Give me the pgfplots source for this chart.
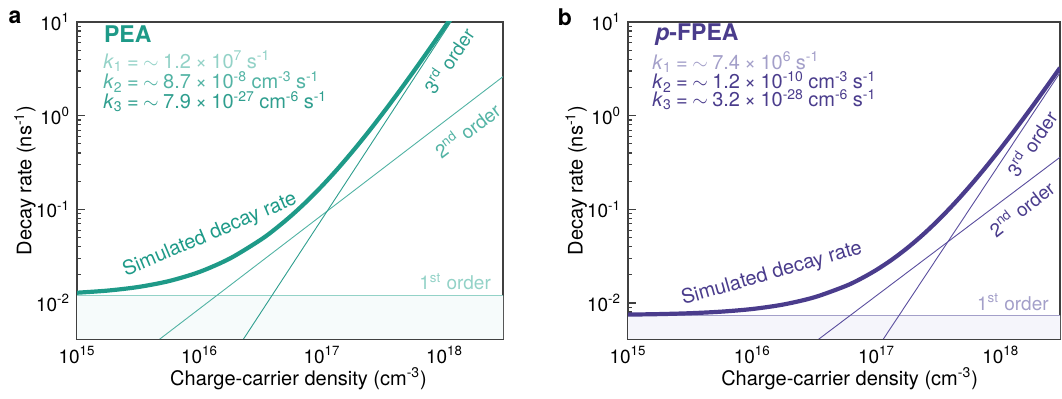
\documentclass[border=0pt]{standalone}
\usepackage{fontspec}
\setmainfont{TeX Gyre Heros}
\usepackage{pgfplots}
\pgfplotsset{compat=1.18}

\definecolor{tmain}{HTML}{1E9A88}
\definecolor{tthree}{HTML}{2E9E8E}
\definecolor{ttwo}{HTML}{52B3A4}
\definecolor{tone}{HTML}{93D2C7}
\definecolor{tfill}{HTML}{F6FBFB}
\definecolor{pmain}{HTML}{4A3C8C}
\definecolor{pline}{HTML}{5A4E9E}
\definecolor{pone}{HTML}{A39FC9}
\definecolor{pfill}{HTML}{F5F5FB}
\newcommand{\gp}{\hspace{0.22em}}

\begin{document}
\begin{tikzpicture}
\useasboundingbox (0,0) rectangle (531pt,199.5pt);
\node[font=\fontsize{11.5}{12}\selectfont\bfseries] at (7.5pt,191pt) {a};
\node[font=\fontsize{11.5}{12}\selectfont\bfseries] at (282.5pt,191pt) {b};

% ---------------- panel a ----------------
\begin{axis}[
  xmode=log, ymode=log, scale only axis, height=158.5pt, width=213pt,
  at={(38.5pt,30pt)}, anchor=south west,
  xmin=1e15, xmax=3e18, ymin=4.13e-3, ymax=10,
  xtick={1e15,1e16,1e17,1e18},
  xticklabels={10\textsuperscript{15},10\textsuperscript{16},10\textsuperscript{17},10\textsuperscript{18}},
  minor xtick={2e15,3e15,4e15,5e15,6e15,7e15,8e15,9e15,2e16,3e16,4e16,5e16,6e16,7e16,8e16,9e16,2e17,3e17,4e17,5e17,6e17,7e17,8e17,9e17,2e18,3e18},
  ytick={1e-2,1e-1,1,10},
  yticklabels={10\textsuperscript{-2},10\textsuperscript{-1},10\textsuperscript{0},10\textsuperscript{1}},
  minor ytick={5e-3,6e-3,7e-3,8e-3,9e-3,2e-2,3e-2,4e-2,5e-2,6e-2,7e-2,8e-2,9e-2,0.2,0.3,0.4,0.5,0.6,0.7,0.8,0.9,2,3,4,5,6,7,8,9},
  tick align=inside, xtick pos=bottom, ytick pos=left,
  major tick length=4pt, minor tick length=2pt,
  axis line style={black!75, line width=0.7pt},
  every tick/.style={black!75, line width=0.6pt},
  tick label style={font=\fontsize{9.5}{10}\selectfont},
  xlabel={Charge-carrier density (cm\textsuperscript{-3})},
  ylabel={Decay rate (ns\textsuperscript{-1})},
  xlabel style={font=\fontsize{10}{12}\selectfont, at={(axis description cs:0.52,0)}, anchor=north, yshift=-11pt},
  ylabel style={font=\fontsize{10}{12}\selectfont, at={(axis description cs:-0.122,0.5)}, anchor=center},
]
\addplot[draw=none, fill=tfill] coordinates {(1e15,1e-3) (1e15,0.012) (3e18,0.012) (3e18,1e-3) (1e15,1e-3)};
\addplot[tone, line width=0.6pt] coordinates {(1e15,0.012) (3e18,0.012)};
\addplot[ttwo, line width=0.45pt] coordinates {(1e15,8.7e-4) (3e18,2.61)};
\addplot[tthree, line width=0.45pt] coordinates {(1e15,7.9e-6) (2e18,31.6)};
\addplot[tmain, line width=2.1pt, smooth] coordinates {
(1e15,0.012878) (1.778e15,0.013572) (3.162e15,0.01483) (5.623e15,0.017142)
(1e16,0.02149) (1.778e16,0.029968) (3.162e16,0.047411) (4.217e16,0.062736)
(5.623e16,0.085902) (7.499e16,0.121666) (1e17,0.178) (1.3335e17,0.2685)
(1.778e17,0.4165) (2.3714e17,0.66256) (3.162e17,1.07711) (4.217e17,1.7837)
(5.623e17,2.9993) (7.499e17,5.1069) (1e18,8.782) (1.122e18,10.93) (1.2589e18,13.63)};
\node[anchor=west, text=tmain, font=\fontsize{11.5}{12}\selectfont\bfseries] at (rel axis cs:0.047,0.962) {PEA};
\node[anchor=west, text=tone, font=\fontsize{10}{10}\selectfont] at (rel axis cs:0.045,0.877) {\textit{k}\textsubscript{1}\gp=\gp$\sim$\gp1.2\gp×\gp10\textsuperscript{7}\gp s\textsuperscript{-1}};
\node[anchor=west, text=ttwo, font=\fontsize{10}{10}\selectfont] at (rel axis cs:0.045,0.811) {\textit{k}\textsubscript{2}\gp=\gp$\sim$\gp8.7\gp×\gp10\textsuperscript{-8}\gp cm\textsuperscript{-3}\gp s\textsuperscript{-1}};
\node[anchor=west, text=tthree, font=\fontsize{10}{10}\selectfont] at (rel axis cs:0.045,0.748) {\textit{k}\textsubscript{3}\gp=\gp$\sim$\gp7.9\gp×\gp10\textsuperscript{-27}\gp cm\textsuperscript{-6}\gp s\textsuperscript{-1}};
\node[text=tmain, rotate=23, font=\fontsize{10}{12}\selectfont] at (rel axis cs:0.312,0.328) {Simulated decay rate};
\node[anchor=base east, text=tone, font=\fontsize{9.5}{12}\selectfont] at (rel axis cs:0.988,0.155) {1\textsuperscript{st} order};
\node[text=ttwo, rotate=37, font=\fontsize{9.5}{12}\selectfont] at (rel axis cs:0.915,0.659) {2\textsuperscript{nd} order};
\node[text=tthree, rotate=56, font=\fontsize{9.5}{12}\selectfont] at (rel axis cs:0.871,0.880) {3\textsuperscript{rd} order};
\end{axis}

% ---------------- panel b ----------------
\begin{axis}[
  xmode=log, ymode=log, scale only axis, height=158.5pt, width=216pt,
  at={(314pt,30pt)}, anchor=south west,
  xmin=1e15, xmax=3e18, ymin=4.13e-3, ymax=10,
  xtick={1e15,1e16,1e17,1e18},
  xticklabels={10\textsuperscript{15},10\textsuperscript{16},10\textsuperscript{17},10\textsuperscript{18}},
  minor xtick={2e15,3e15,4e15,5e15,6e15,7e15,8e15,9e15,2e16,3e16,4e16,5e16,6e16,7e16,8e16,9e16,2e17,3e17,4e17,5e17,6e17,7e17,8e17,9e17,2e18,3e18},
  ytick={1e-2,1e-1,1,10},
  yticklabels={10\textsuperscript{-2},10\textsuperscript{-1},10\textsuperscript{0},10\textsuperscript{1}},
  minor ytick={5e-3,6e-3,7e-3,8e-3,9e-3,2e-2,3e-2,4e-2,5e-2,6e-2,7e-2,8e-2,9e-2,0.2,0.3,0.4,0.5,0.6,0.7,0.8,0.9,2,3,4,5,6,7,8,9},
  tick align=inside, xtick pos=bottom, ytick pos=left,
  major tick length=4pt, minor tick length=2pt,
  axis line style={black!75, line width=0.7pt},
  every tick/.style={black!75, line width=0.6pt},
  tick label style={font=\fontsize{9.5}{10}\selectfont},
  xlabel={Charge-carrier density (cm\textsuperscript{-3})},
  ylabel={Decay rate (ns\textsuperscript{-1})},
  xlabel style={font=\fontsize{10}{12}\selectfont, at={(axis description cs:0.513,0)}, anchor=north, yshift=-11pt},
  ylabel style={font=\fontsize{10}{12}\selectfont, at={(axis description cs:-0.12,0.5)}, anchor=center},
]
\addplot[draw=none, fill=pfill] coordinates {(1e15,1e-3) (1e15,0.0074) (3e18,0.0074) (3e18,1e-3) (1e15,1e-3)};
\addplot[pone, line width=0.6pt] coordinates {(1e15,0.0074) (3e18,0.0074)};
\addplot[pline, line width=0.45pt] coordinates {(1e15,1.2e-4) (3e18,0.36)};
\addplot[pline, line width=0.45pt] coordinates {(1e15,3.2e-7) (3e18,2.88)};
\addplot[pmain, line width=2.1pt, smooth] coordinates {
(1e15,0.0075203) (1.778e15,0.0076144) (3.162e15,0.0077827) (5.623e15,0.0080849)
(1e16,0.008632) (1.778e16,0.0096352) (3.162e16,0.011515) (5.623e16,0.01516)
(7.499e16,0.018198) (1e17,0.0226) (1.3335e17,0.029093) (1.778e17,0.038858)
(2.3714e17,0.053852) (3.162e17,0.077347) (4.217e17,0.11491) (5.623e17,0.17607)
(7.499e17,0.27734) (1e18,0.4474) (1.3335e18,0.73648) (1.778e18,1.2327)
(2.371e18,2.0914) (3e18,3.2474)};
\node[anchor=west, text=pmain, font=\fontsize{11.5}{12}\selectfont\bfseries] at (rel axis cs:0.047,0.959) {\textit{p}-FPEA};
\node[anchor=west, text=pone, font=\fontsize{10}{10}\selectfont] at (rel axis cs:0.04,0.874) {\textit{k}\textsubscript{1}\gp=\gp$\sim$\gp7.4\gp×\gp10\textsuperscript{6}\gp s\textsuperscript{-1}};
\node[anchor=west, text=pmain, font=\fontsize{10}{10}\selectfont] at (rel axis cs:0.04,0.811) {\textit{k}\textsubscript{2}\gp=\gp$\sim$\gp1.2\gp×\gp10\textsuperscript{-10}\gp cm\textsuperscript{-3}\gp s\textsuperscript{-1}};
\node[anchor=west, text=pmain, font=\fontsize{10}{10}\selectfont] at (rel axis cs:0.04,0.755) {\textit{k}\textsubscript{3}\gp=\gp$\sim$\gp3.2\gp×\gp10\textsuperscript{-28}\gp cm\textsuperscript{-6}\gp s\textsuperscript{-1}};
\node[text=pmain, rotate=16, font=\fontsize{10}{12}\selectfont] at (rel axis cs:0.333,0.205) {Simulated decay rate};
\node[anchor=base east, text=pone, font=\fontsize{9.5}{12}\selectfont] at (rel axis cs:0.99,0.091) {1\textsuperscript{st} order};
\node[text=pmain, rotate=38, font=\fontsize{9.5}{12}\selectfont] at (rel axis cs:0.91,0.413) {2\textsuperscript{nd} order};
\node[text=pmain, rotate=56, font=\fontsize{9.5}{12}\selectfont] at (rel axis cs:0.933,0.618) {3\textsuperscript{rd} order};
\end{axis}
\end{tikzpicture}
\end{document}
